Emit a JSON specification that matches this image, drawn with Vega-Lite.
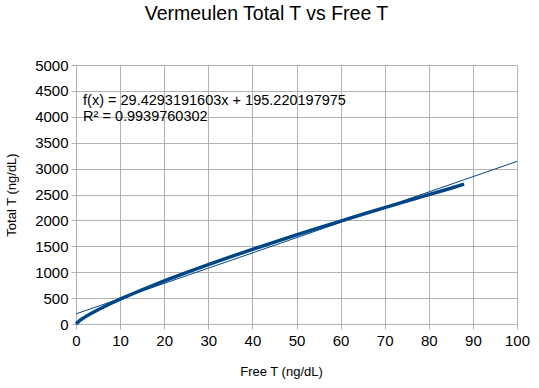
{
  "$schema": "https://vega.github.io/schema/vega-lite/v6.json",
  "width": 441,
  "height": 259,
  "autosize": "none",
  "padding": {"left": 76, "top": 65, "right": 22, "bottom": 64},
  "background": "white",
  "config": {
    "font": "Liberation Sans",
    "view": {"stroke": null},
    "axis": {
      "gridColor": "#b3b3b3",
      "gridWidth": 1,
      "tickColor": "#b3b3b3",
      "tickSize": 5,
      "domain": false,
      "labelColor": "black",
      "labelFontSize": 15,
      "labelOverlap": false,
      "labelFlush": false,
      "labelBound": false,
      "titleFontSize": 13,
      "titleFontWeight": "normal",
      "titleColor": "black",
      "labelFont": "Liberation Sans",
      "titleFont": "Liberation Sans"
    }
  },
  "title": {
    "text": "Vermeulen Total T vs Free T",
    "fontSize": 19.5,
    "fontWeight": "normal",
    "font": "Liberation Sans",
    "color": "black",
    "anchor": "middle",
    "dx": -30,
    "offset": 34
  },
  "datasets": {
    "curve": [
      {"free": 0, "total": 0},
      {"free": 1, "total": 77},
      {"free": 2, "total": 133},
      {"free": 3, "total": 184},
      {"free": 5, "total": 276},
      {"free": 7.5, "total": 381},
      {"free": 10, "total": 480},
      {"free": 15, "total": 661},
      {"free": 20, "total": 831},
      {"free": 25, "total": 992},
      {"free": 30, "total": 1147},
      {"free": 35, "total": 1295},
      {"free": 40, "total": 1441},
      {"free": 45, "total": 1582},
      {"free": 50, "total": 1720},
      {"free": 55, "total": 1855},
      {"free": 60, "total": 1987},
      {"free": 65, "total": 2118},
      {"free": 70, "total": 2246},
      {"free": 75, "total": 2372},
      {"free": 80, "total": 2497},
      {"free": 85, "total": 2620},
      {"free": 88, "total": 2700}
    ],
    "trend": [
      {"free": 0, "total": 195.22},
      {"free": 100, "total": 3138.15}
    ],
    "label": [
      {"free": 1.6, "total": 4300, "text": "f(x) = 29.4293191603x + 195.220197975"},
      {"free": 1.6, "total": 3990, "text": "R² = 0.9939760302"}
    ]
  },
  "encoding": {
    "x": {
      "field": "free", "type": "quantitative",
      "scale": {"domain": [0, 100], "nice": false},
      "axis": {"values": [0,10,20,30,40,50,60,70,80,90,100], "tickCount": 30, "format": "d", "title": "Free T (ng/dL)", "titlePadding": 17, "labelPadding": 4, "titleX": 205}
    },
    "y": {
      "field": "total", "type": "quantitative",
      "scale": {"domain": [0, 5000], "nice": false},
      "axis": {"values": [0,500,1000,1500,2000,2500,3000,3500,4000,4500,5000], "tickCount": 30, "format": "d", "title": "Total T (ng/dL)", "titlePadding": 16, "labelPadding": 3}
    }
  },
  "layer": [
    {
      "data": {"name": "curve"},
      "mark": {"type": "line", "color": "#004586", "strokeWidth": 3.5, "strokeCap": "butt"}
    },
    {
      "data": {"name": "trend"},
      "mark": {"type": "line", "color": "#004586", "strokeWidth": 1}
    },
    {
      "data": {"name": "label"},
      "mark": {"type": "text", "align": "left", "baseline": "middle", "fontSize": 14.5, "font": "Liberation Sans", "color": "black"},
      "encoding": {
        "text": {"field": "text"}
      }
    }
  ]
}
